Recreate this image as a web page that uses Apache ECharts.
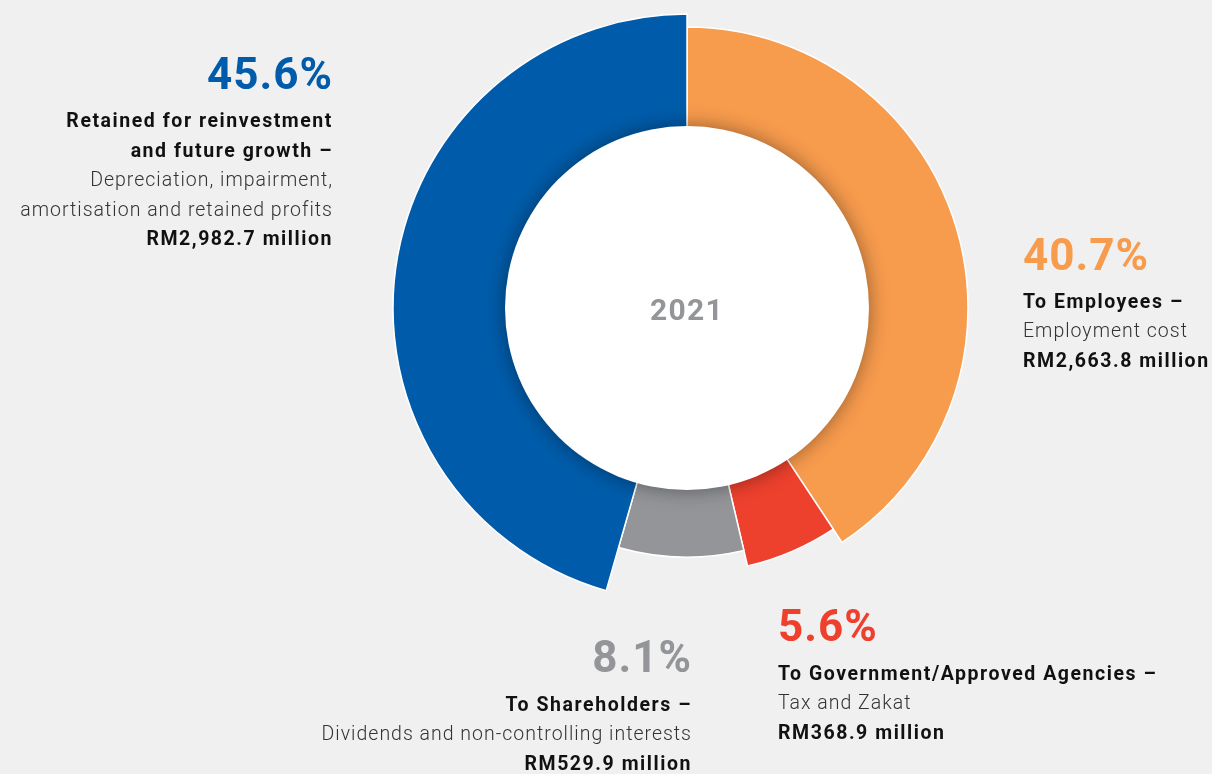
<!DOCTYPE html>
<html>
<head>
<meta charset="utf-8">
<script src="https://cdn.jsdelivr.net/npm/echarts@6/dist/echarts.min.js"></script>
<style>
html,body{margin:0;padding:0;background:#f0f0f0;}
#chart{width:1212px;height:774px;}
</style>
</head>
<body>
<div id="chart"></div>
<script>
// ---- data ----
const categories = ['To Employees', 'To Government/Approved Agencies', 'To Shareholders', 'Retained for reinvestment and future growth'];
const values = [2663.8, 368.9, 529.9, 2982.7];
const percentLabels = ['40.7%', '5.6%', '8.1%', '45.6%'];
const headLines = [
  ['To Employees –'],
  ['To Government/Approved Agencies –'],
  ['To Shareholders –'],
  ['Retained for reinvestment', 'and future growth –']
];
const descLines = [
  ['Employment cost'],
  ['Tax and Zakat'],
  ['Dividends and non-controlling interests'],
  ['Depreciation, impairment,', 'amortisation and retained profits']
];
const amountLabels = ['RM2,663.8 million', 'RM368.9 million', 'RM529.9 million', 'RM2,982.7 million'];
const yearLabel = '2021';

// ---- text tracking (letter spacing) for canvas text ----
function tracking(font) {
  font = font || '';
  if (/(^|\s)300\s/.test(font)) return '1px';
  if (/44px/.test(font)) return '1px';
  if (/30px/.test(font)) return '1.3px';
  return '1.55px';
}
(function () {
  const P = CanvasRenderingContext2D.prototype;
  if (!('letterSpacing' in P)) return;
  const of = P.fillText, om = P.measureText, os = P.strokeText;
  P.fillText = function () { this.letterSpacing = tracking(this.font); return of.apply(this, arguments); };
  P.strokeText = function () { this.letterSpacing = tracking(this.font); return os.apply(this, arguments); };
  P.measureText = function () { this.letterSpacing = tracking(this.font); return om.apply(this, arguments); };
})();

// ---- style ----
const colors = ['#F79B4D', '#EE412D', '#939598', '#005CAA'];
const outerR = [281, 265, 249, 294];
const innerR = 182;
const cx = 687, cy = 308;
const FONT = 'Roboto, "Noto Sans", sans-serif';

const series = categories.map((c, i) => ({
  type: 'pie',
  silent: true,
  center: [cx, cy],
  radius: [innerR - 2, outerR[i]],
  startAngle: 90,
  clockwise: true,
  animation: false,
  label: {show: false},
  labelLine: {show: false},
  z: 1,
  data: categories.map((n, j) => ({
    name: n,
    value: values[j],
    itemStyle: j === i
      ? {color: colors[j], borderColor: '#ffffff', borderWidth: 1.5}
      : {color: 'rgba(0,0,0,0)', borderWidth: 0}
  }))
}));

series.push({
  type: 'pie',
  silent: true,
  center: [cx, cy],
  radius: [0, innerR],
  animation: false,
  z: 3,
  labelLine: {show: false},
  label: {
    show: true, position: 'center', formatter: yearLabel,
    fontFamily: FONT, fontWeight: 'bold', fontSize: 30, color: '#939598'
  },
  labelLayout: {dy: 4},
  itemStyle: {color: '#ffffff', shadowBlur: 20, shadowColor: 'rgba(0,0,0,0.4)'},
  data: [{name: yearLabel, value: 1}]
});

// label blocks: anchor x, align, y of percent, y of first text line
const blocks = [
  {x: 1023, align: 'left', py: 259, ty: 303},
  {x: 778, align: 'left', py: 630, ty: 675},
  {x: 692, align: 'right', py: 660.5, ty: 706},
  {x: 333, align: 'right', py: 77.5, ty: 122.5}
];
const lineH = 29.4;
const graphic = [];
blocks.forEach((b, i) => {
  graphic.push({
    type: 'text', x: b.x, y: b.py,
    style: {text: percentLabels[i], fill: colors[i], align: b.align, verticalAlign: 'middle',
      font: 'bold 44px ' + FONT}
  });
  let y = b.ty;
  const lines = [];
  headLines[i].forEach(t => lines.push([t, 'bold']));
  descLines[i].forEach(t => lines.push([t, '300']));
  lines.push([amountLabels[i], 'bold']);
  lines.forEach(([t, w]) => {
    graphic.push({
      type: 'text', x: b.x, y: y,
      style: {text: t, fill: w === 'bold' ? '#111111' : '#333333', align: b.align, verticalAlign: 'middle',
        font: w + ' 19.5px ' + FONT}
    });
    y += lineH;
  });
});

const chart = echarts.init(document.getElementById('chart'));
chart.setOption({
  backgroundColor: '#f0f0f0',
  animation: false,
  series: series,
  graphic: graphic
});
</script>
</body>
</html>
